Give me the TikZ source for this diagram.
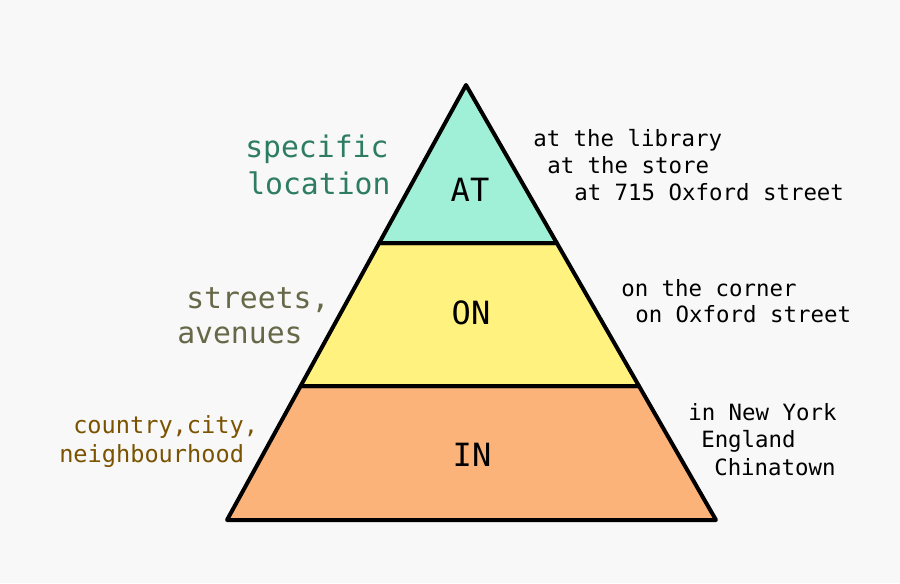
\documentclass[tikz,border=0pt]{standalone}
\usepackage{fontspec}
\setmainfont{DejaVu Sans Mono}
\usetikzlibrary{calc}
\definecolor{paper}{HTML}{F8F8F8}
\definecolor{atfill}{HTML}{9FF0D6}
\definecolor{onfill}{HTML}{FFF27E}
\definecolor{infill}{HTML}{FBB37A}
\definecolor{attext}{HTML}{2E7D62}
\definecolor{ontext}{HTML}{676848}
\definecolor{intext}{HTML}{7A5200}
\tikzstyle{layer}=[draw=black,line width=3pt,line join=round]
\tikzstyle{word}=[font=\fontsize{24}{24}\selectfont]
\tikzstyle{place}=[anchor=base west,inner sep=0,font=\fontsize{22.3}{26}\selectfont]
\tikzstyle{kind}=[anchor=base west,inner sep=0,font=\fontsize{17.7}{20}\selectfont]
\tikzstyle{sample}=[anchor=base west,inner sep=0,font=\fontsize{16.8}{20}\selectfont]

\begin{document}
\begin{tikzpicture}[x=0.75pt,y=-0.75pt]
\fill[paper] (0,0) rectangle (900,583);
\useasboundingbox (0,0) rectangle (900,583);
\coordinate (apex) at (466,85);
\coordinate (bl) at (227,520);
\coordinate (br) at (716,520);
\coordinate (al) at ($(apex)!0.3632!(bl)$);
\coordinate (ar) at ($(apex)!0.3632!(br)$);
\coordinate (ol) at ($(apex)!0.692!(bl)$);
\coordinate (or) at ($(apex)!0.692!(br)$);
% the three layers
\filldraw[layer,fill=infill] (ol)--(or)--(br)--(bl)--cycle;
\filldraw[layer,fill=onfill] (al)--(ar)--(or)--(ol)--cycle;
\filldraw[layer,fill=atfill] (apex)--(ar)--(al)--cycle;
\node[word] (at) at (470,190) {AT};
\node[word] (on) at (471,313) {ON};
\node[word] (in) at (472,455) {IN};
% left side
\node[place,attext] (spec) at (245,157) {specific};
\node[place,attext] (loc) at (247,194) {location};
\node[place,ontext] (str) at (186,308) {streets,};
\node[place,ontext] (ave) at (177,343) {avenues};
\node[kind,intext] (ctry) at (73,433) {country,city,};
\node[kind,intext] (nbh) at (59,462) {neighbourhood};
% right side
\node[sample] (lib) at (533,146) {at the library};
\node[sample] (store) at (547,173) {at the store};
\node[sample] (oxf) at (574,200) {at 715 Oxford street};
\node[sample] (corner) at (621,296) {on the corner};
\node[sample] (ostr) at (635,322) {on Oxford street};
\node[sample] (ny) at (688,420) {in New York};
\node[sample] (eng) at (701,447) {England};
\node[sample] (china) at (714,475) {Chinatown};
\end{tikzpicture}
\end{document}
